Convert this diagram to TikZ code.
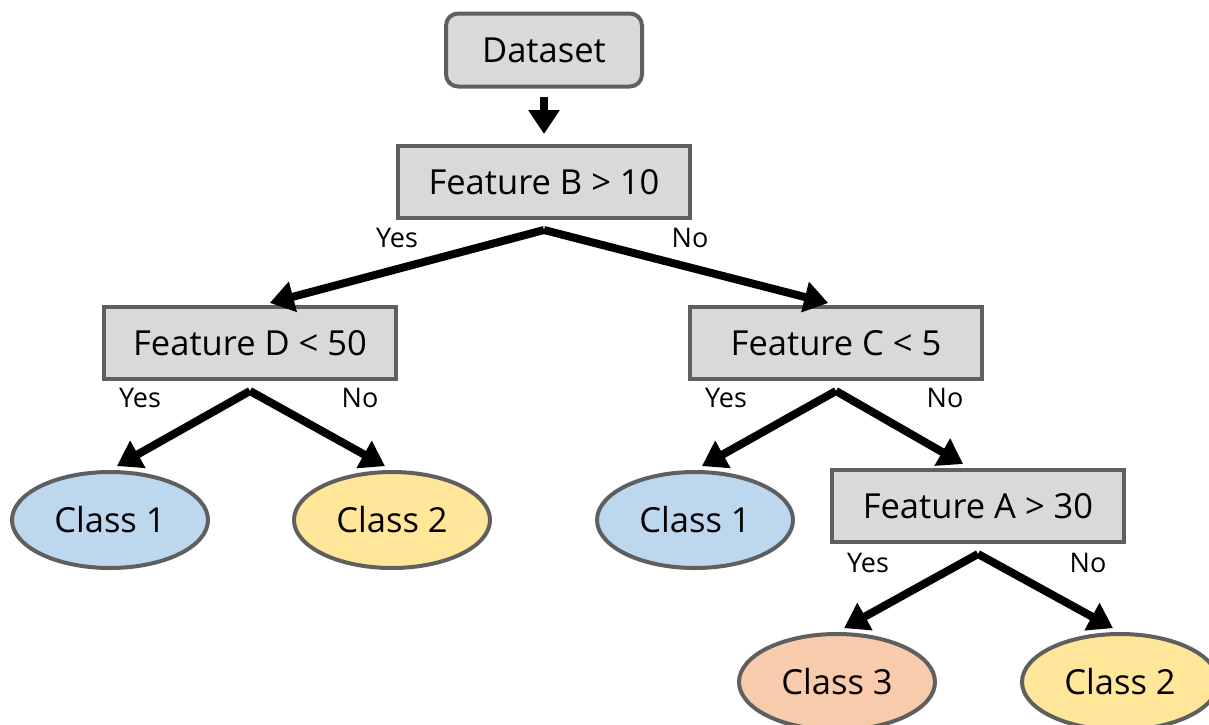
\documentclass[tikz,border=0pt]{standalone}
\usepackage{fontspec}
\setmainfont{Open Sans}
\usetikzlibrary{arrows.meta,shapes.geometric}
\definecolor{boxfill}{HTML}{D9D9D9}
\definecolor{edge}{HTML}{5F5F5F}
\definecolor{cblue}{HTML}{BDD7EE}
\definecolor{cyellow}{HTML}{FFE699}
\definecolor{csalmon}{HTML}{F8CBAD}
\begin{document}
\begin{tikzpicture}[x=1pt,y=-1pt,
  box/.style={draw=edge,line width=4pt,fill=boxfill,minimum width=292pt,minimum height=72pt,inner sep=0pt,font=\fontsize{34.5}{40}\selectfont},
  dbox/.style={box,rounded corners=12pt,minimum width=196pt,minimum height=73pt},
  leaf/.style={ellipse,draw=edge,line width=4pt,minimum width=196pt,minimum height=96pt,inner sep=0pt,font=\fontsize{34.5}{40}\selectfont},
  arr/.style={line width=8pt,-{Triangle[length=24pt,width=30pt]},shorten >=8pt},
  lbl/.style={font=\fontsize{27}{32}\selectfont,inner sep=0pt}]
\useasboundingbox (0,0) rectangle (1209,724);
\clip (0,0) rectangle (1209,724);
\node[dbox] (ds) at (544,50) {Dataset};
\node[box] (B) at (544,182) {Feature B > 10};
\node[box] (D) at (250,343) {Feature D < 50};
\node[box] (C) at (836,343) {Feature C < 5};
\node[box] (A) at (978,506) {Feature A > 30};
\node[leaf,fill=cblue] (c1a) at (110,520) {Class 1};
\node[leaf,fill=cyellow] (c2a) at (392,520) {Class 2};
\node[leaf,fill=cblue] (c1b) at (695,520) {Class 1};
\node[leaf,fill=csalmon] (c3) at (837,682) {Class 3};
\node[leaf,fill=cyellow] (c2b) at (1120,682) {Class 2};
\coordinate (dsb) at ([yshift=-8pt]ds.south);
\coordinate (Bb) at ([yshift=-10pt]B.south);
\coordinate (Db) at ([yshift=-10pt]D.south);
\coordinate (Cb) at ([yshift=-10pt]C.south);
\coordinate (Ab) at ([yshift=-10pt]A.south);
\draw[arr,shorten >=10pt] (dsb) -- (B.north);
\draw[arr] (Bb) -- ([xshift=12pt]D.north);
\draw[arr] (Bb) -- (C.north);
\draw[arr] (Db) -- (c1a.north);
\draw[arr] (Db) -- (c2a.north);
\draw[arr] (Cb) -- (c1b.north);
\draw[arr] (Cb) -- ([xshift=-8pt]A.north);
\draw[arr] (Ab) -- (c3.north);
\draw[arr] (Ab) -- (c2b.north);
\node[lbl] (y1) at (397,238) {Yes};
\node[lbl] (n1) at (690,238) {No};
\node[lbl] (y2) at (140,398) {Yes};
\node[lbl] (n2) at (360,398) {No};
\node[lbl] (y3) at (726,398) {Yes};
\node[lbl] (n3) at (945,398) {No};
\node[lbl] (y4) at (868,563) {Yes};
\node[lbl] (n4) at (1088,563) {No};
\end{tikzpicture}
\end{document}
